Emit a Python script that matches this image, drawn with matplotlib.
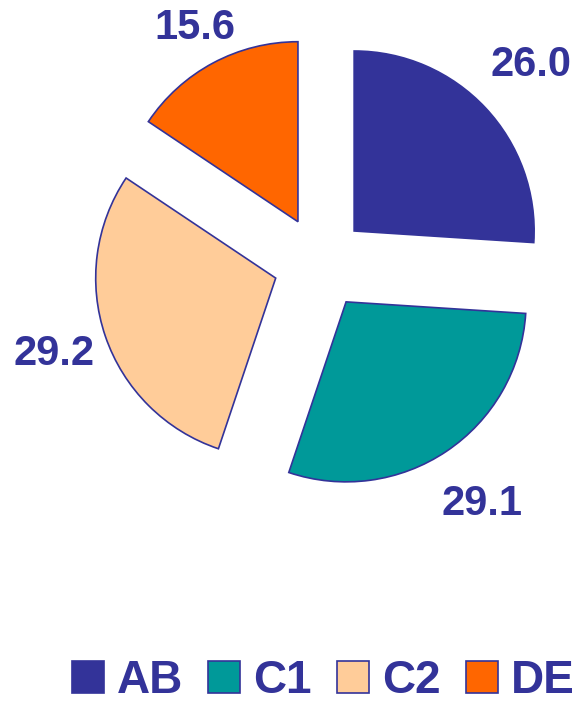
import matplotlib
matplotlib.use('Agg')
import numpy as np
import matplotlib.pyplot as plt

# data
labels = ['AB', 'C1', 'C2', 'DE']
values = [26.0, 29.1, 29.2, 15.6]
colors = ['#333399', '#009999', '#FFCC99', '#FF6600']
navy = '#333399'
# radial distance of each value label, in units of the radius
label_r = [1.35, 1.35, 1.30, 1.22]

plt.rcParams['font.family'] = ['Liberation Sans', 'DejaVu Sans']

fig = plt.figure(figsize=(5.82, 7.03), dpi=100)
ax = fig.add_axes([0, 0, 1, 1])

wedges, texts = ax.pie(values, labels=[f'{v:.1f}' for v in values],
                       colors=colors, startangle=90, counterclock=False,
                       explode=[0.26] * len(values), labeldistance=1.32,
                       wedgeprops=dict(edgecolor=navy, linewidth=1.2),
                       textprops=dict(color=navy, fontsize=30, fontweight='bold'))
for w, t, r in zip(wedges, texts, label_r):
    th = np.deg2rad((w.theta1 + w.theta2) / 2)
    cx, cy = w.center
    t.set_position((cx + r * np.cos(th), cy + r * np.sin(th)))
    t.set_ha('center')
    t.set_va('center')

# 1 data unit = 180 px, pie centre at (320, 263) px from top-left
ax.set_xlim(-320 / 180, 262 / 180)
ax.set_ylim(-440 / 180, 263 / 180)
ax.set_aspect('equal')
ax.axis('off')

fig.legend(wedges, labels, loc='center', bbox_to_anchor=(0.555, 0.031),
           ncol=4, frameon=False, handlelength=0.7, handleheight=0.7,
           handletextpad=0.28, columnspacing=0.55, labelcolor=navy,
           prop=dict(size=33, weight='bold'))

fig.savefig('out.png', dpi=100)
